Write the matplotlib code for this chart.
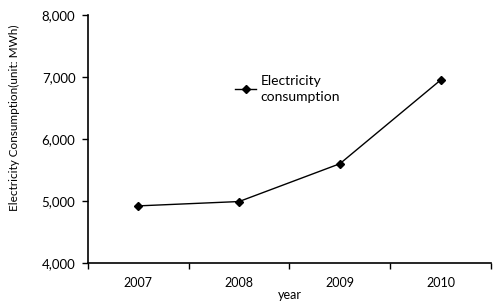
import matplotlib
matplotlib.use("Agg")
import matplotlib.pyplot as plt
from matplotlib.ticker import FuncFormatter

# data
years = ["2007", "2008", "2009", "2010"]
consumption = [4920, 4990, 5600, 6950]

plt.rcParams['font.family'] = ['Lato', 'DejaVu Sans']

fig = plt.figure(figsize=(4.94, 3.05), dpi=100)
ax = fig.add_axes([0.178, 0.138, 0.816, 0.813])

x = list(range(len(years)))
ax.plot(x, consumption, color='black', lw=1.0, marker='D', ms=4.5,
        label='Electricity\nconsumption')

ax.set_xlim(-0.5, len(years) - 0.5)
ax.set_ylim(4000, 8000)
ax.set_yticks([4000, 5000, 6000, 7000, 8000])
ax.yaxis.set_major_formatter(FuncFormatter(lambda v, p: f"{int(v):,}"))

# ticks on category boundaries, labels in the middle
ax.set_xticks([i - 0.5 for i in range(len(years) + 1)])
ax.set_xticklabels([])
ax.set_xticks(x, minor=True)
ax.set_xticklabels(years, minor=True)
ax.tick_params(axis='x', which='minor', length=0, pad=10, labelsize=9)
ax.tick_params(axis='x', which='major', length=4, width=1)
ax.tick_params(axis='y', length=4, width=1, labelsize=9.5, pad=5)

for s in ['top', 'right']:
    ax.spines[s].set_visible(False)
for s in ['left', 'bottom']:
    ax.spines[s].set_linewidth(1.2)

ax.set_xlabel('year', fontsize=9, labelpad=0)
ax.set_ylabel('Electricity Consumption(unit: MWh)', fontsize=8.5)
ax.yaxis.set_label_coords(-0.168, 0.585)

leg = ax.legend(loc='upper left', bbox_to_anchor=(0.335, 0.81), frameon=False,
                fontsize=10, handlelength=1.5, handletextpad=0.3)
for t in leg.get_texts():
    t.set_linespacing(1.4)

fig.savefig('out.png', dpi=100)
